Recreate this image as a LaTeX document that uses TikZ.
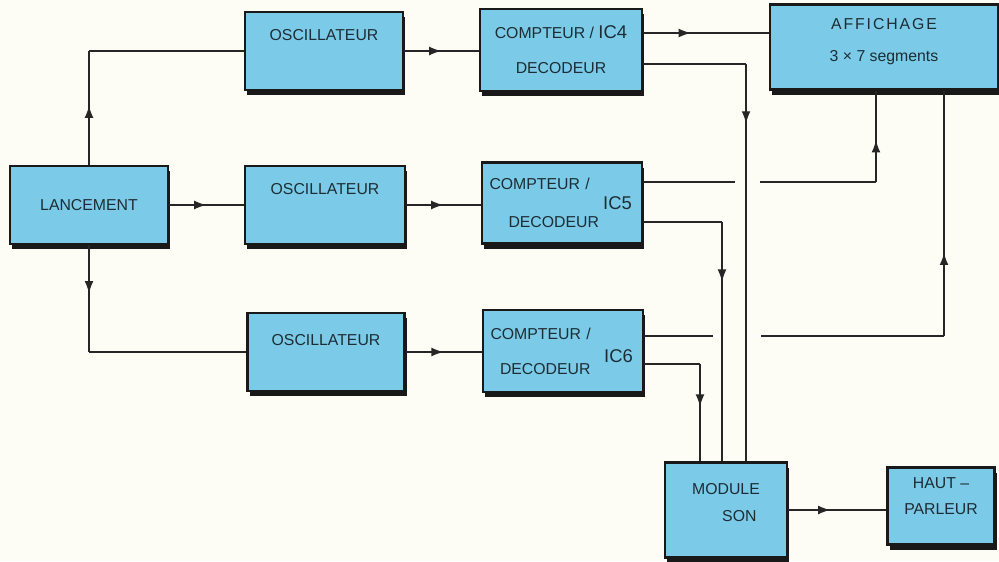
\documentclass[tikz,border=0pt]{standalone}
\usepackage{fontspec}
\setmainfont{Liberation Sans}
\usetikzlibrary{arrows.meta, positioning, decorations.markings, shadows}

\definecolor{bleu}{RGB}{122,202,232}
\definecolor{encre}{RGB}{30,45,52}
\definecolor{papier}{RGB}{254,253,245}

\tikzset{
	bloc/.style={draw=black!90, line width=1.6pt, fill=bleu, text=encre, inner sep=0pt,
		align=center, font=\fontsize{9}{15}\selectfont,
		drop shadow={shadow xshift=1.4pt, shadow yshift=-3pt, fill=black!90, opacity=1}},
	lien/.style={draw=black!85, line width=0.8pt},
	fleche/.style={postaction={decorate}, decoration={markings,
			mark=at position #1 with {\arrow{Latex[length=7pt,width=5pt]}}}},
	fleche/.default=0.5,
}

\begin{document}
\begin{tikzpicture}[x=0.02cm, y=-0.02cm]
	% Papier
	\path[use as bounding box, fill=papier] (0,0) rectangle (999,561);
	
	% Blocs
	\node[bloc, minimum width=3.16cm, minimum height=1.56cm] (lanc) at (89,205) {LANCEMENT};
	\node[bloc, minimum width=3.16cm, minimum height=1.56cm, text depth=18pt] (osc1) at (324,51) {OSCILLATEUR};
	\node[bloc, minimum width=3.2cm, minimum height=1.56cm, text depth=18pt] (osc2) at (325,205) {OSCILLATEUR};
	\node[bloc, minimum width=3.14cm, minimum height=1.56cm, text depth=14pt] (osc3) at (326,352) {OSCILLATEUR};
	
	\node[bloc, minimum width=3.24cm, minimum height=1.64cm, font=\fontsize{9}{20}\selectfont] (cd1) at (561,50)
		{COMPTEUR / {\fontsize{10.5}{12}\selectfont IC4}\\DECODEUR};
	\node[bloc, minimum width=3.2cm, minimum height=1.62cm, text width=2.9cm, align=left,
		font=\fontsize{9}{22}\selectfont,
		label={[anchor=east, xshift=-3pt, text=encre, font=\fontsize{10.5}{12}\selectfont]east:IC5}] (cd2) at (562,203)
		{COMPTEUR /\\\hspace*{1.2em}DECODEUR};
	\node[bloc, minimum width=3.2cm, minimum height=1.64cm, text width=2.9cm, align=left,
		font=\fontsize{9}{20}\selectfont,
		label={[anchor=east, xshift=-3pt, yshift=-3pt, text=encre, font=\fontsize{10.5}{12}\selectfont]east:IC6}] (cd3) at (563,351)
		{COMPTEUR /\\\hspace*{0.6em}DECODEUR};
	
	\node[bloc, minimum width=4.56cm, minimum height=1.7cm, text depth=8pt, font=\fontsize{9}{18}\selectfont] (aff) at (884,47)
		{{\addfontfeature{LetterSpace=12}AFFICHAGE}\\3 × 7 segments};
	\node[bloc, minimum width=2.44cm, minimum height=1.9cm, align=left, text height=13pt] (mod) at (726,510)
		{MODULE\\\hspace*{1.9em}SON};
	\node[bloc, minimum width=2.14cm, minimum height=1.54cm, text height=10pt] (hp) at (941,506)
		{HAUT –\\PARLEUR};
	
	% Points de passage
	\coordinate (k1) at (lanc.north |- osc1.west);
	\coordinate (k2) at (lanc.south |- osc3.west);
	\coordinate (c1h) at (cd1.east |- 0,33);
	\coordinate (c1b) at (cd1.east |- 0,64);
	\coordinate (b1) at (746,64);
	\coordinate (c2h) at (cd2.east |- 0,182);
	\coordinate (g2a) at (735,182);
	\coordinate (g2b) at (760,182);
	\coordinate (b2) at (876,182);
	\coordinate (c2b) at (cd2.east |- 0,222);
	\coordinate (b3) at (722,222);
	\coordinate (c3h) at (cd3.east |- 0,336);
	\coordinate (g3a) at (713,336);
	\coordinate (g3b) at (761,336);
	\coordinate (b4) at (944,336);
	\coordinate (c3b) at (cd3.east |- 0,364);
	\coordinate (b5) at (700,364);
	
	% Lancement -> oscillateurs
	\draw[lien, fleche=0.52] (lanc.north) -- (k1);
	\draw[lien] (k1) -- (osc1.west);
	\draw[lien, fleche] (lanc.east) -- (osc2.west);
	\draw[lien, fleche=0.45] (lanc.south) -- (k2);
	\draw[lien] (k2) -- (osc3.west);
	
	% Oscillateurs -> compteurs
	\draw[lien, fleche] (osc1.east) -- (osc1.east -| cd1.west);
	\draw[lien, fleche] (osc2.east) -- (osc2.east -| cd2.west);
	\draw[lien, fleche] (osc3.east) -- (osc3.east -| cd3.west);
	
	% Compteurs -> affichage
	\draw[lien, fleche=0.38] (c1h) -- (c1h -| aff.west);
	\draw[lien] (c2h) -- (g2a);
	\draw[lien] (g2b) -- (b2);
	\draw[lien, fleche=0.46] (b2) -- (b2 |- aff.south);
	\draw[lien] (c3h) -- (g3a);
	\draw[lien] (g3b) -- (b4);
	\draw[lien, fleche=0.34] (b4) -- (b4 |- aff.south);
	
	% Compteurs -> module son
	\draw[lien] (c1b) -- (b1);
	\draw[lien, fleche=0.15] (b1) -- (b1 |- mod.north);
	\draw[lien] (c2b) -- (b3);
	\draw[lien, fleche=0.25] (b3) -- (b3 |- mod.north);
	\draw[lien] (c3b) -- (b5);
	\draw[lien, fleche=0.44] (b5) -- (b5 |- mod.north);
	
	% Module son -> haut-parleur
	\draw[lien, fleche=0.43] (mod.east) -- (mod.east -| hp.west);
\end{tikzpicture}
\end{document}
